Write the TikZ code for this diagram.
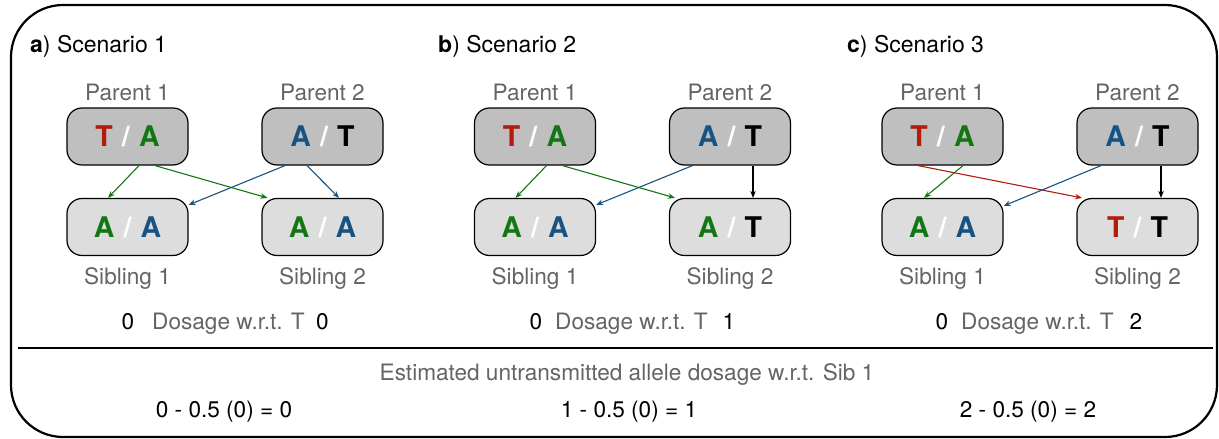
\documentclass[tikz,border=0pt]{standalone}
\usepackage{fontspec}
\setmainfont{TeX Gyre Heros}
\usetikzlibrary{arrows.meta,calc}
\definecolor{ared}{RGB}{178,28,10}
\definecolor{agreen}{RGB}{18,118,18}
\definecolor{ablue}{RGB}{22,82,130}
\definecolor{lblgray}{RGB}{100,100,100}
\definecolor{pfill}{RGB}{191,191,191}
\definecolor{sfill}{RGB}{221,221,221}
\newcommand{\gen}[4]{\textcolor{#1}{#2}\hspace{0.32em}\textcolor{white}{/}\hspace{0.32em}\textcolor{#3}{#4}}
\begin{document}
\begin{tikzpicture}[x=1pt,y=-1pt,
  box/.style={draw=black, line width=1.2pt, rounded corners=15pt, minimum width=121pt, minimum height=57pt,
    inner sep=0pt, text height=20.5pt, text depth=0pt, font=\fontsize{28.5}{30}\selectfont\bfseries},
  pbox/.style={box, fill=pfill},
  sbox/.style={box, fill=sfill},
  lbl/.style={anchor=base, inner sep=0pt, text=lblgray, font=\fontsize{22.6}{26}\selectfont},
  num/.style={anchor=base, inner sep=0pt, text=black, font=\fontsize{22.6}{26}\selectfont},
  ttl/.style={anchor=base west, inner sep=0pt, font=\fontsize{23}{26}\selectfont},
  conn/.style={-{Stealth[length=7pt,width=5.5pt]}, line width=1.1pt}
]
\useasboundingbox (0,0) rectangle (1219,439);
\draw[line width=2.2pt, rounded corners=52pt] (11,5) rectangle (1217,437);
\draw[line width=2.2pt] (18,348) -- (1213,348);

% titles
\node[ttl] (ta) at (30,52) {\textbf{a}) Scenario 1};
\node[ttl] (tb) at (438,52) {\textbf{b}) Scenario 2};
\node[ttl] (tc) at (847,52) {\textbf{c}) Scenario 3};

% panel a
\node[pbox] (p1a) at (127.5,136.5) {\gen{ared}{T}{agreen}{A}};
\node[pbox] (p2a) at (322.5,136.5) {\gen{ablue}{A}{black}{T}};
\node[sbox] (s1a) at (127.5,227) {\gen{agreen}{A}{ablue}{A}};
\node[sbox] (s2a) at (322.5,227) {\gen{agreen}{A}{ablue}{A}};
% panel b
\node[pbox] (p1b) at (535,136.5) {\gen{ared}{T}{agreen}{A}};
\node[pbox] (p2b) at (730,136.5) {\gen{ablue}{A}{black}{T}};
\node[sbox] (s1b) at (535,227) {\gen{agreen}{A}{ablue}{A}};
\node[sbox] (s2b) at (730,227) {\gen{agreen}{A}{black}{T}};
% panel c
\node[pbox] (p1c) at (942.5,136.5) {\gen{ared}{T}{agreen}{A}};
\node[pbox] (p2c) at (1137.5,136.5) {\gen{ablue}{A}{black}{T}};
\node[sbox] (s1c) at (942.5,227) {\gen{agreen}{A}{ablue}{A}};
\node[sbox] (s2c) at (1137.5,227) {\gen{ared}{T}{black}{T}};

% box labels
\foreach \p/\x in {a/127.5,b/535,c/942.5}{
  \node[lbl] (lp1\p) at (\x,100) {Parent 1};
  \node[lbl] (ls1\p) at (\x,284) {Sibling 1};
}
\foreach \p/\x in {a/322.5,b/730,c/1137.5}{
  \node[lbl] (lp2\p) at (\x,100) {Parent 2};
  \node[lbl] (ls2\p) at (\x,284) {Sibling 2};
}

% arrows panel a
\draw[conn, agreen] ([xshift=11.5pt]p1a.south) -- ([xshift=-19.5pt]s1a.north);
\draw[conn, agreen] ([xshift=27.5pt]p1a.south) -- ([xshift=-55pt]s2a.north);
\draw[conn, ablue] ([xshift=-37.5pt]p2a.south) -- ([yshift=-7pt]s1a.north east);
\draw[conn, ablue] ([xshift=-15.5pt]p2a.south) -- ([xshift=16.5pt]s2a.north);
% arrows panel b
\draw[conn, agreen] ([xshift=11.5pt]p1b.south) -- ([xshift=-19.5pt]s1b.north);
\draw[conn, agreen] ([xshift=27.5pt]p1b.south) -- ([xshift=-55pt]s2b.north);
\draw[conn, ablue] ([xshift=-37.5pt]p2b.south) -- ([yshift=-7pt]s1b.north east);
\draw[conn, black] ([xshift=23pt]p2b.south) -- ([xshift=23pt]s2b.north);
% arrows panel c
\draw[conn, agreen] ([xshift=20.5pt]p1c.south) -- ([xshift=-18.5pt]s1c.north);
\draw[conn, ared] ([xshift=-24.5pt]p1c.south) -- ([xshift=-55.5pt]s2c.north);
\draw[conn, ablue] ([xshift=-36.5pt]p2c.south) -- ([yshift=-8pt]s1c.north east);
\draw[conn, black] ([xshift=23.5pt]p2c.south) -- ([xshift=23.5pt]s2c.north);

% dosage rows
\node[num] (d1a) at (128,329) {0};
\node[lbl] (dla) at (228.5,329) {Dosage w.r.t. T};
\node[num] (d2a) at (322.5,329) {0};
\node[num] (d1b) at (536,329) {0};
\node[lbl] (dlb) at (631.5,329) {Dosage w.r.t. T};
\node[num] (d2b) at (729,329) {1};
\node[num] (d1c) at (942,329) {0};
\node[lbl] (dlc) at (1037.5,329) {Dosage w.r.t. T};
\node[num] (d2c) at (1136,329) {2};

% bottom
\node[lbl] (est) at (627,380) {Estimated untransmitted allele dosage w.r.t. Sib 1};
\node[num] (fa) at (224,417) {0 - 0.5 (0) = 0};
\node[num] (fb) at (629,417) {1 - 0.5 (0) = 1};
\node[num] (fc) at (1028,417) {2 - 0.5 (0) = 2};
\end{tikzpicture}
\end{document}
